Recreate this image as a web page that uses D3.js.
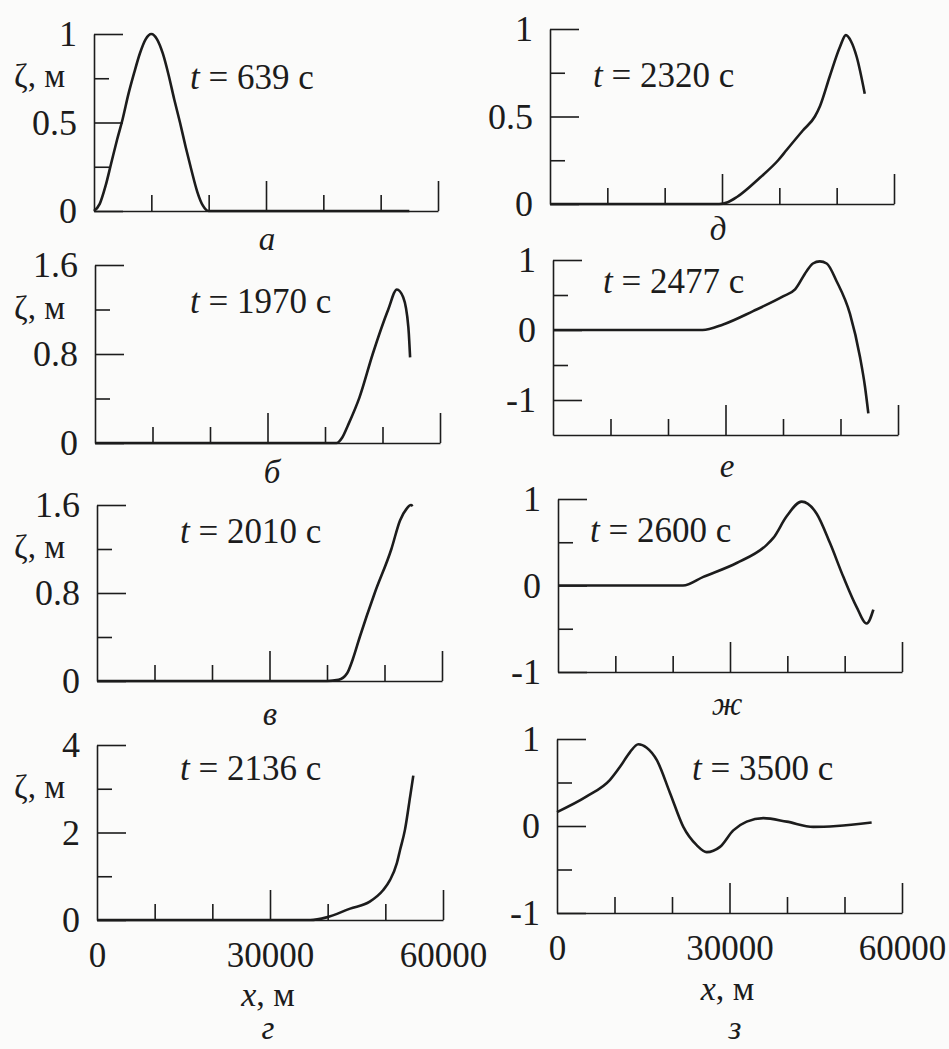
<!DOCTYPE html>
<html>
<head>
<meta charset="utf-8">
<script src="https://cdn.jsdelivr.net/npm/d3@7"></script>
<style>
  body { margin: 0; background: #fbfbfa; }
  svg text { font-family: "Liberation Serif", "Times New Roman", serif; fill: #1c1c1c; }
</style>
</head>
<body>
<script>
// values
const times = [639, 1970, 2010, 2136, 2320, 2477, 2600, 3500];
const letters = ["а", "б", "в", "г", "д", "е", "ж", "з"];

const xTicksMajor = [30000, 60000];
const xTicksMinor = [10000, 20000, 40000, 50000];
const xTickLabels = [0, 30000, 60000];

const yMajor01 = [0, 0.5, 1],   yMinor01 = [0.25, 0.75];
const yMajor16 = [0, 0.8, 1.6], yMinor16 = [0.4, 1.2];
const yMajor4  = [0, 2, 4],     yMinor4  = [1, 3];
const yMajorPM = [-1, 0, 1],    yMinorPM = [-0.5, 0.5];

// [x, m ; zeta, m]
const curveA = [[0,0],[1000,0.04],[2000,0.14],[3000,0.27],[4000,0.4],[5000,0.52],[6000,0.66],[7000,0.78],
  [8000,0.89],[9000,0.97],[10000,1.0],[11000,0.97],[12000,0.89],[13000,0.77],[14000,0.63],[15000,0.5],
  [16000,0.36],[17000,0.23],[18000,0.11],[19000,0.03],[20000,0],[55000,0]];
const curveB = [[0,0],[42000,0],[43000,0.05],[44000,0.16],[46000,0.41],[48300,0.8],[51000,1.2],
  [52500,1.38],[53600,1.31],[54500,1.04],[54800,0.77]];
const curveV = [[0,0],[40000,0],[42000,0.01],[43500,0.07],[44500,0.2],[45700,0.4],[48300,0.8],
  [51200,1.2],[52700,1.46],[53900,1.57],[54600,1.6],[54900,1.59]];
const curveG = [[0,0],[37000,0],[39800,0.06],[43900,0.26],[47300,0.42],[49600,0.68],[50800,0.91],
  [52000,1.3],[52550,1.6],[53400,2.06],[54300,2.82],[54850,3.3]];
const curveD = [[0,0],[29500,0],[31000,0.01],[32600,0.04],[36600,0.15],[39800,0.25],[41300,0.31],
  [44100,0.42],[46200,0.5],[47100,0.56],[48800,0.73],[50600,0.9],[51600,0.965],[52500,0.93],
  [53500,0.84],[54900,0.63]];
const curveE = [[0,0],[26000,0],[29600,0.08],[34800,0.27],[40000,0.48],[42100,0.58],[44100,0.84],
  [45200,0.95],[46400,0.98],[47600,0.95],[49300,0.7],[51650,0.23],[53400,-0.39],[54260,-0.81],[54840,-1.19]];
const curveZh = [[0,0],[21800,0],[25350,0.1],[31160,0.26],[36400,0.47],[37560,0.55],[39880,0.8],
  [42500,0.97],[45120,0.83],[47440,0.49],[49770,0.1],[52090,-0.25],[53840,-0.44],[55000,-0.28]];
const curveZ = [[0,0.16],[5160,0.34],[9220,0.53],[10960,0.68],[12700,0.85],[14140,0.94],[15600,0.9],
  [17340,0.76],[19650,0.38],[21970,-0.01],[24290,-0.22],[26030,-0.3],[28350,-0.24],[30660,-0.05],
  [32990,0.05],[35880,0.09],[39940,0.05],[44580,-0.01],[48640,0.0],[54720,0.04]];

// panel frames on the page
const panels = [
  { data: curveA,  yDom: [0, 1],    major: yMajor01, minor: yMinor01, x0: 94,  x1: 438, top: 34,  base: 211, tx: 190, ty: 89,  lx: 267, ly: 250,  ylab: true },
  { data: curveB,  yDom: [0, 1.6],  major: yMajor16, minor: yMinor16, x0: 95,  x1: 440, top: 265, base: 443, tx: 190, ty: 313, lx: 272, ly: 483,  ylab: true },
  { data: curveV,  yDom: [0, 1.6],  major: yMajor16, minor: yMinor16, x0: 97,  x1: 442, top: 505, base: 681, tx: 180, ty: 543, lx: 270, ly: 725,  ylab: true },
  { data: curveG,  yDom: [0, 4],    major: yMajor4,  minor: yMinor4,  x0: 97,  x1: 443, top: 745, base: 920, tx: 180, ty: 780, lx: 268, ly: 1039, ylab: true, xlab: 1006 },
  { data: curveD,  yDom: [0, 1],    major: yMajor01, minor: yMinor01, x0: 550, x1: 894, top: 29,  base: 204, tx: 593, ty: 87,  lx: 718, ly: 240 },
  { data: curveE,  yDom: [-1.5, 1], major: yMajorPM, minor: yMinorPM, x0: 553, x1: 898, top: 260, base: 435, tx: 603, ty: 293, lx: 727, ly: 477 },
  { data: curveZh, yDom: [-1, 1],   major: yMajorPM, minor: yMinorPM, x0: 558, x1: 902, top: 499, base: 672, tx: 590, ty: 542, lx: 727, ly: 715 },
  { data: curveZ,  yDom: [-1, 1],   major: yMajorPM, minor: yMinorPM, x0: 557, x1: 902, top: 739, base: 913, tx: 692, ty: 780, lx: 735, ly: 1039, xlab: 1000 }
];

const ink = "#1c1c1c";
const svg = d3.select("body").append("svg")
  .attr("width", 949)
  .attr("height", 1049)
  .attr("font-family", "Liberation Serif, serif");

function styleAxis(g, fs) {
  g.attr("font-family", null).attr("font-size", null).style("color", ink);
  g.selectAll("path, line").attr("stroke-width", 1.6);
  g.selectAll("text").attr("font-size", fs);
}

panels.forEach((p, i) => {
  const x = d3.scaleLinear().domain([0, 60000]).range([p.x0, p.x1]);
  const y = d3.scaleLinear().domain(p.yDom).range([p.base, p.top]);
  const g = svg.append("g");

  // x axis, ticks point inward
  g.append("g").attr("transform", "translate(0," + p.base + ")")
    .call(d3.axisBottom(x).tickValues(xTicksMajor).tickSizeInner(-30).tickSizeOuter(0).tickFormat(""))
    .call(styleAxis, 0);
  g.append("g").attr("transform", "translate(0," + p.base + ")")
    .call(d3.axisBottom(x).tickValues(xTicksMinor).tickSizeInner(-16).tickSizeOuter(0).tickFormat(""))
    .call(styleAxis, 0)
    .call(a => a.select(".domain").remove());

  if (p.xlab) {
    g.append("g").attr("transform", "translate(0," + p.base + ")")
      .call(d3.axisBottom(x).tickValues(xTickLabels).tickSize(0).tickPadding(22).tickFormat(d => String(d)))
      .call(styleAxis, 35)
      .call(a => a.select(".domain").remove());
    const xl = g.append("text")
      .attr("x", x(30000) - 2)
      .attr("y", p.xlab)
      .attr("text-anchor", "middle")
      .attr("font-size", 34);
    xl.append("tspan").attr("font-style", "italic").text("x");
    xl.append("tspan").text(", м");
  }

  // y axis
  g.append("g").attr("transform", "translate(" + p.x0 + ",0)")
    .call(d3.axisLeft(y).tickValues(p.major).tickSizeInner(-29).tickSizeOuter(0).tickPadding(17).tickFormat(d => String(d)))
    .call(styleAxis, 36);
  g.append("g").attr("transform", "translate(" + p.x0 + ",0)")
    .call(d3.axisLeft(y).tickValues(p.minor).tickSizeInner(-15).tickSizeOuter(0).tickFormat(""))
    .call(styleAxis, 0)
    .call(a => a.select(".domain").remove());

  if (p.ylab) {
    g.append("text")
      .attr("x", 14)
      .attr("y", y(p.minor[1]) + 9)
      .attr("font-size", 33)
      .text("ζ, м");
  }

  // the wave profile
  const line = d3.line()
    .x(d => x(d[0]))
    .y(d => y(d[1]))
    .curve(d3.curveMonotoneX);
  g.append("path")
    .datum(p.data)
    .attr("d", line)
    .attr("fill", "none")
    .attr("stroke", ink)
    .attr("stroke-width", 2.6)
    .attr("stroke-linejoin", "round");

  const t = g.append("text")
    .attr("x", p.tx)
    .attr("y", p.ty)
    .attr("font-size", 35);
  t.append("tspan").attr("font-style", "italic").text("t");
  t.append("tspan").text(" = " + times[i] + " с");

  g.append("text")
    .attr("x", p.lx)
    .attr("y", p.ly)
    .attr("text-anchor", "middle")
    .attr("font-style", "italic")
    .attr("font-size", 33)
    .text(letters[i]);
});
</script>
</body>
</html>
